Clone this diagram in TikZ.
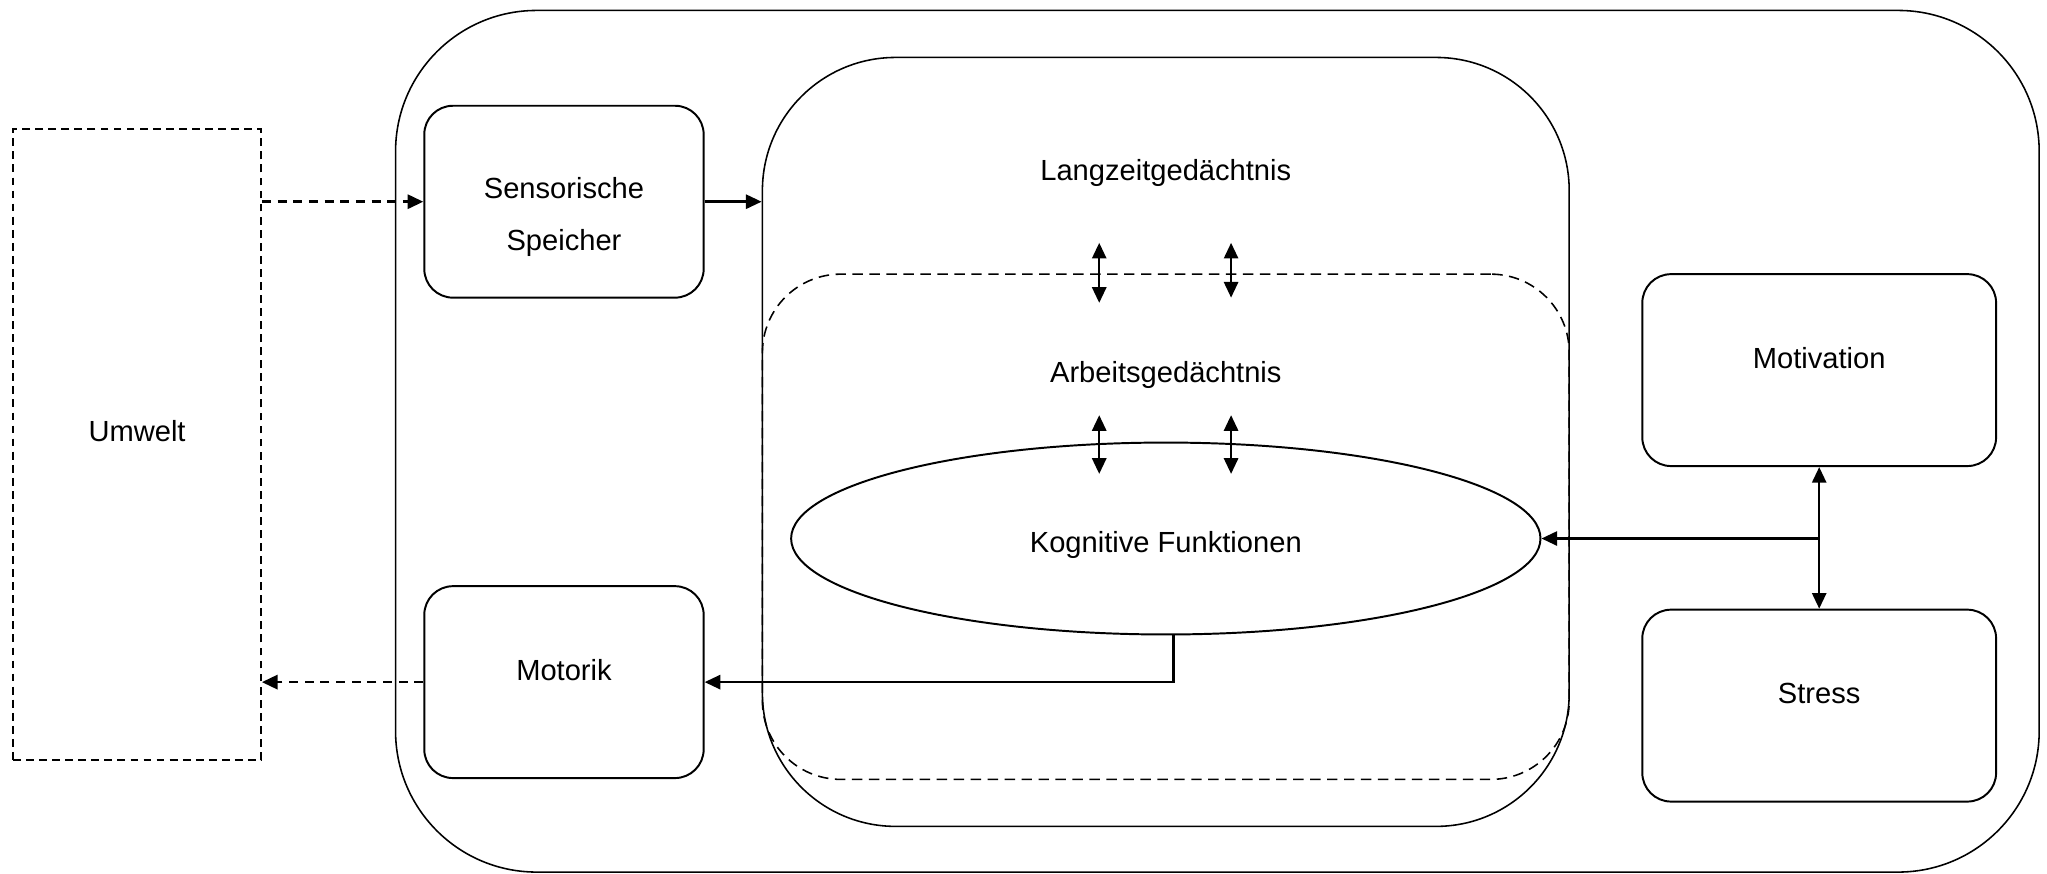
\documentclass[tikz,border=0pt]{standalone}
\usepackage{fontspec}
\setmainfont{Liberation Sans}
\usetikzlibrary{arrows.meta,shapes.geometric}
\begin{document}
\begin{tikzpicture}[x=0.5pt,y=-0.5pt,
  every node/.style={font=\fontsize{11.15pt}{20pt}\selectfont},
  frame/.style={draw, line width=0.6pt, inner sep=0pt},
  box/.style={frame, line width=0.75pt, rounded corners=11pt},
  lbl/.style={anchor=base, align=center, inner sep=0pt},
  tip/.style={Triangle[length=6pt,width=5.4pt]},
  arrow/.style={line width=0.95pt, -{Triangle[length=6pt,width=5.4pt]}},
  twoway/.style={line width=0.95pt, {Triangle[length=6pt,width=5.4pt]}-{Triangle[length=6pt,width=5.4pt]}},
  dasharrow/.style={arrow, line width=1.05pt, dash pattern=on 3.5pt off 2.5pt}
]
\useasboundingbox (0,0) rectangle (1568,669);

% containers
\node[frame, rounded corners=54pt, minimum width=629.5pt, minimum height=330pt] (outer) at (932.5,338) {};
\node[frame, rounded corners=51pt, minimum width=309pt, minimum height=294.5pt] (lzg) at (893,338.5) {};
\node[frame, rounded corners=30pt, dash pattern=on 4pt off 2.5pt, minimum width=309pt, minimum height=193.5pt] (agd) at (893,403.5) {};
\node[frame, dash pattern=on 3pt off 2pt, minimum width=95pt, minimum height=241.5pt] (umw) at (105,340.5) {};

% boxes
\node[box, minimum width=107pt, minimum height=73.5pt] (sens) at (432,154.5) {};
\node[box, minimum width=107pt, minimum height=73.5pt] (mot) at (432,522.5) {};
\node[box, minimum width=135.5pt, minimum height=73.5pt] (motv) at (1393.5,283.5) {};
\node[box, minimum width=135.5pt, minimum height=73.5pt] (str) at (1393.5,540.5) {};
\node[frame, line width=0.75pt, ellipse, minimum width=287pt, minimum height=73.5pt] (kog) at (893,412.5) {};

% labels
\node[lbl] (tumw) at (105,338) {Umwelt};
\node[lbl] (tsens) at (432,192) {Sensorische\\Speicher};
\node[lbl] (tmot) at (432,521) {Motorik};
\node[lbl] (tlzg) at (893,138) {Langzeitgedächtnis};
\node[lbl] (tagd) at (893,293) {Arbeitsgedächtnis};
\node[lbl] (tkog) at (893,423) {Kognitive Funktionen};
\node[lbl] (tmotv) at (1393.5,282) {Motivation};
\node[lbl] (tstr) at (1393.5,539) {Stress};

% exchange points between the memory stores
\coordinate (a1) at (842,186); \coordinate (a2) at (842,232);
\coordinate (b1) at (943,186); \coordinate (b2) at (943,228);
\coordinate (c1) at (842,318); \coordinate (c2) at (842,363);
\coordinate (d1) at (943,318); \coordinate (d2) at (943,363);
\coordinate (kb) at (899,486);

% connectors
\draw[dasharrow] (umw.east |- sens.west) -- (sens.west);
\draw[arrow] (sens.east) -- (sens.east -| lzg.west);
\draw[twoway] (a1) -- (a2);
\draw[twoway] (b1) -- (b2);
\draw[twoway] (c1) -- (c2);
\draw[twoway] (d1) -- (d2);
\draw[arrow] (kb) |- (mot.east);
\draw[dasharrow] (mot.west) -- (mot.west -| umw.east);
\draw[twoway] (motv.south) -- (str.north);
\draw[arrow] (motv.south |- kog.east) -- (kog.east);
\end{tikzpicture}
\end{document}
